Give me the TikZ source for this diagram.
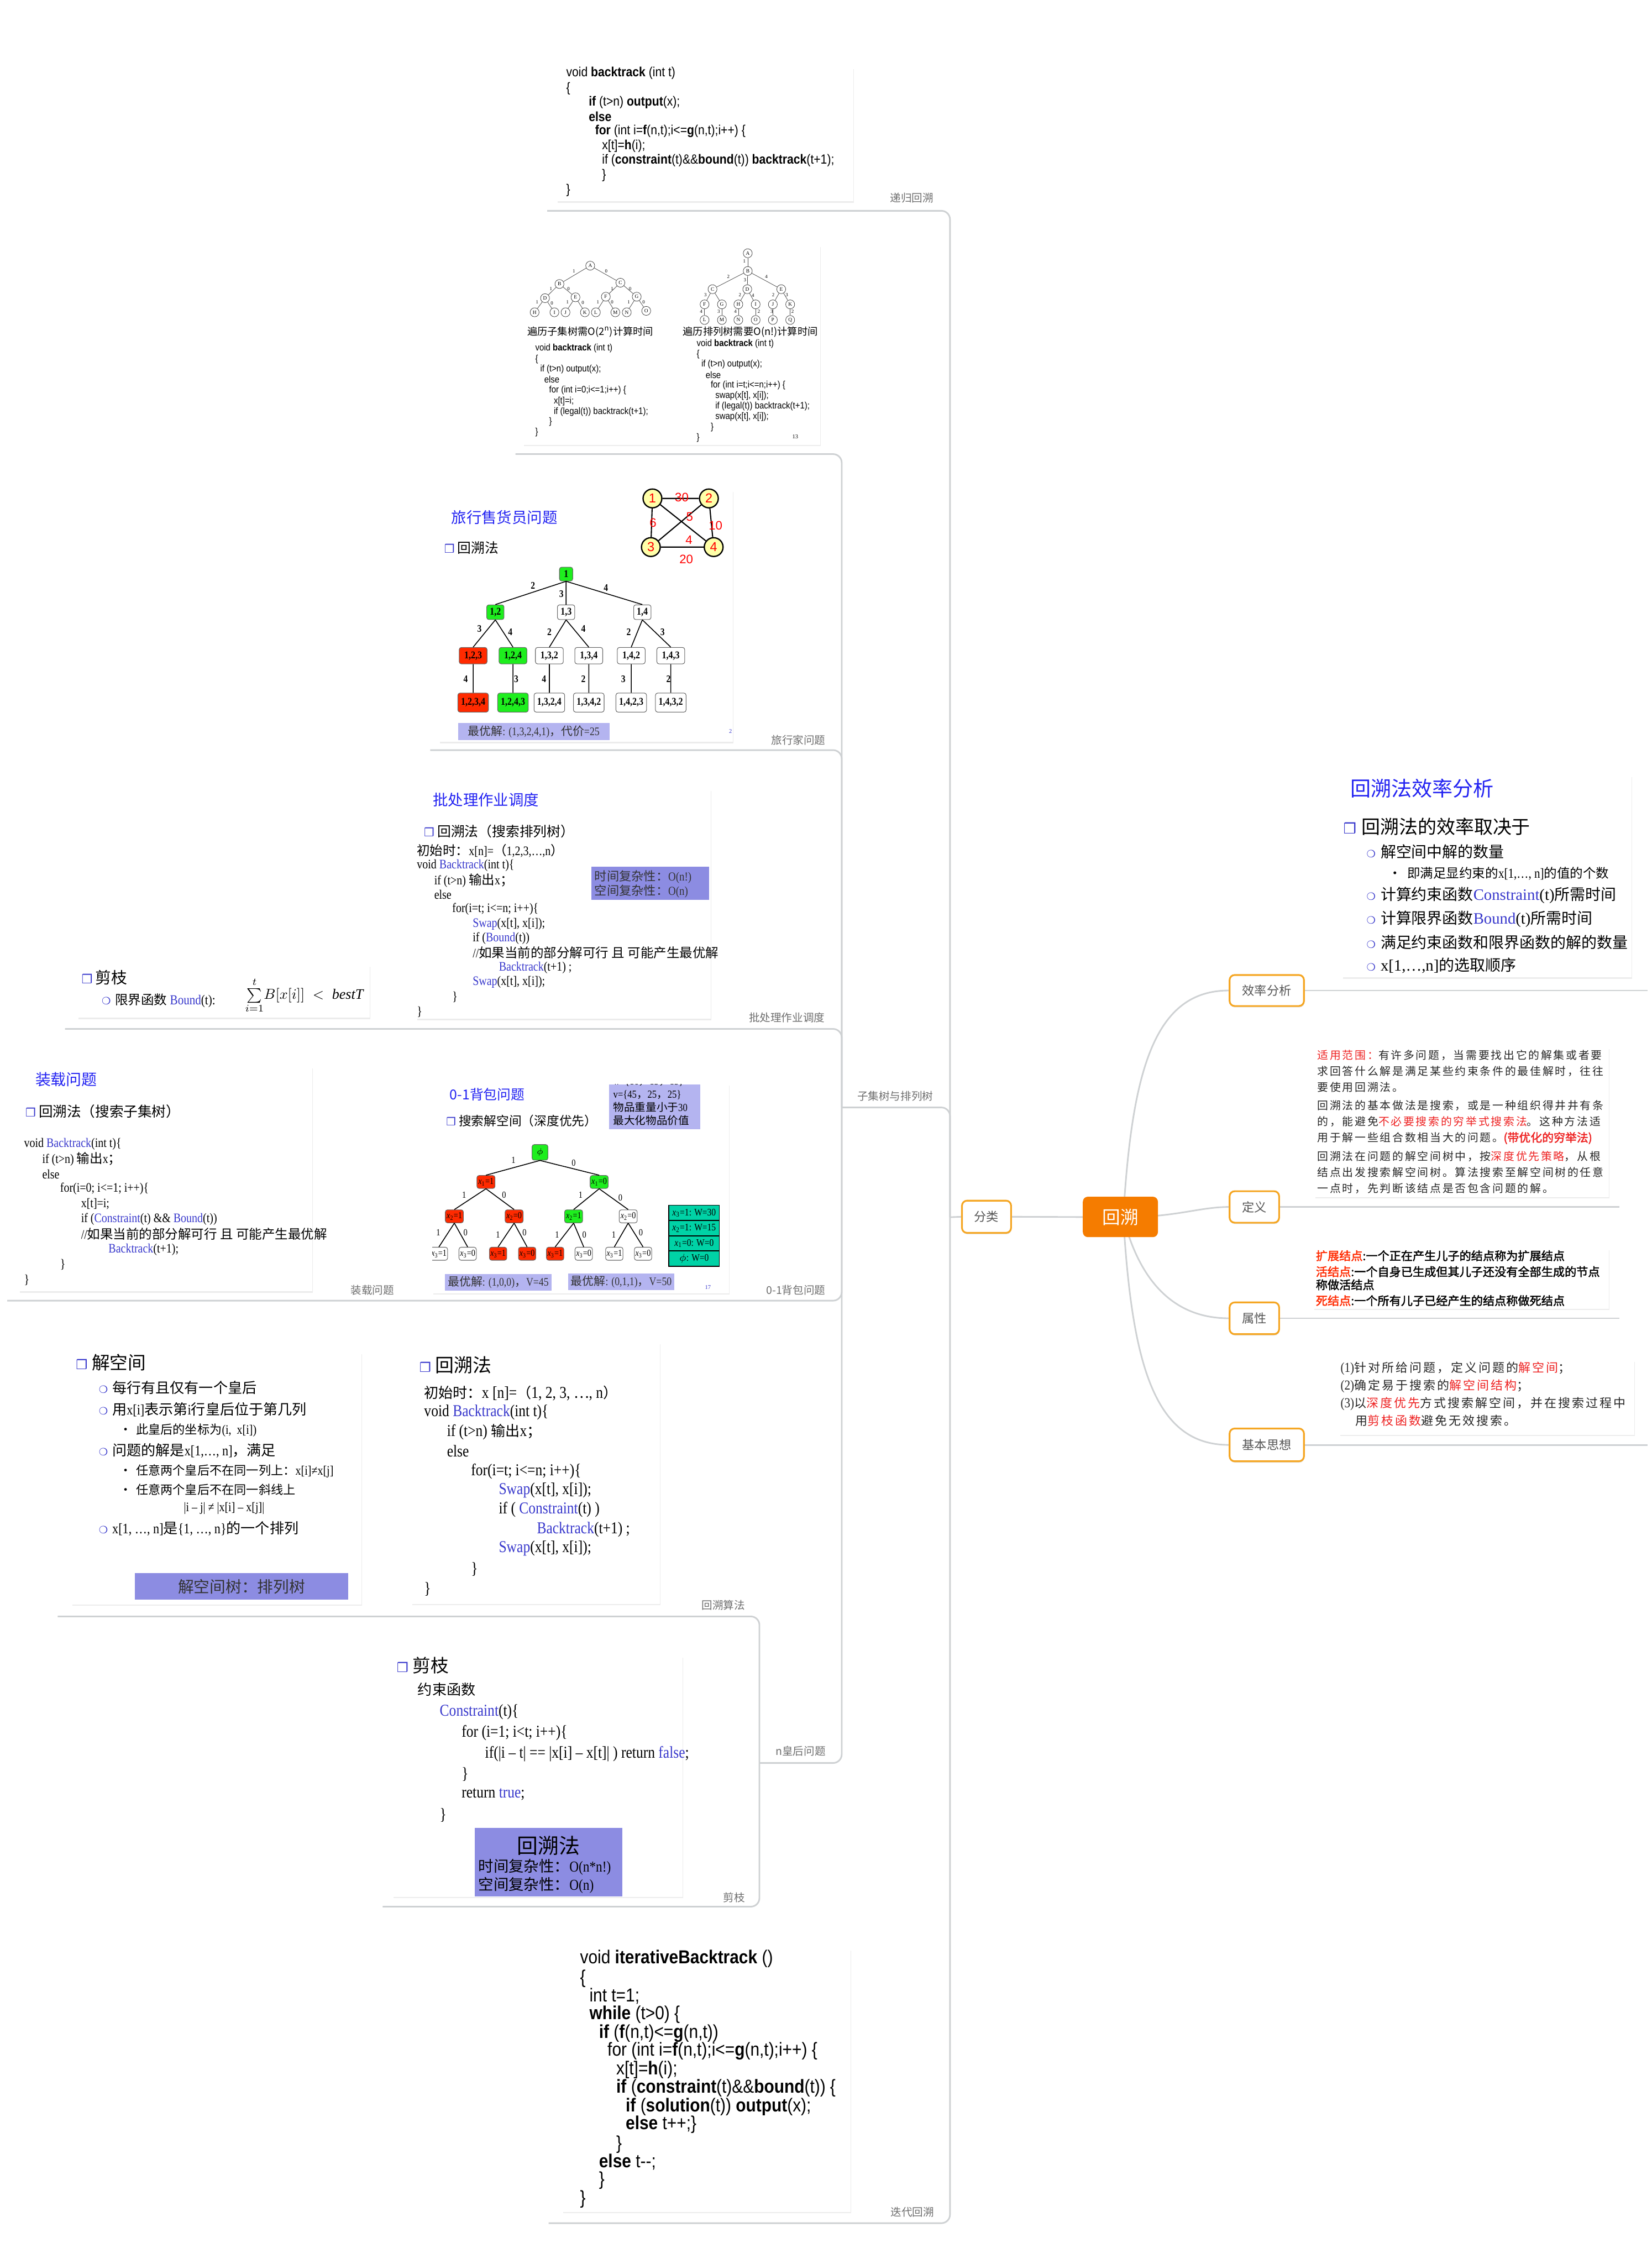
\documentclass[tikz,border=0pt]{standalone}
\usepackage{fontspec}
\usepackage{amsmath}
\usetikzlibrary{shadows}
\setmainfont{Liberation Serif}
\setsansfont{Liberation Sans}
\newfontfamily\cjk{Noto Sans CJK SC}
\newfontfamily\cjkbf[FakeBold=2]{Noto Sans CJK SC}
\newfontfamily\cjksp[LetterSpace=14]{Noto Sans CJK SC}
\newfontfamily\nserif[FakeStretch=0.85]{Liberation Serif}
\newfontfamily\nsans[FakeStretch=0.88]{Liberation Sans}
\newfontfamily\dingfont{DejaVu Sans}

\definecolor{linegray}{HTML}{CED1D3}
\definecolor{rootorange}{HTML}{F57C00}
\definecolor{edgeorange}{HTML}{F5A623}
\definecolor{taggray}{HTML}{6E6E6E}
\definecolor{topictext}{HTML}{555555}
\definecolor{titleblue}{HTML}{2323F2}
\definecolor{codeblue}{HTML}{3838CC}
\definecolor{lavbox}{HTML}{B4B4F0}
\definecolor{purpbox}{HTML}{8C8CE2}
\definecolor{ngreen}{HTML}{1EEE1E}
\definecolor{nred}{HTML}{FF2A00}
\definecolor{tabteal}{HTML}{00D2A6}
\definecolor{tspyel}{HTML}{FFFFA8}
\definecolor{notered}{HTML}{EE2222}

\newcommand\fsz[1]{\fontsize{#1}{#1}\selectfont}
\newcommand\lat[1]{{\nserif #1}}
\newcommand\zhtxt[1]{{\cjk #1}}
\newcommand\zhs[2]{{\cjk\fsz{#1}#2}}
\newcommand\blu[1]{\textcolor{codeblue}{#1}}
\newcommand\redt[1]{\textcolor{notered}{#1}}
\newcommand\sqbul[1]{{\dingfont\fsz{#1}\textcolor{codeblue}{❒}}}
\newcommand\ringbul{{\dingfont\fsz{7}\textcolor{codeblue}{❍}}}
\newcommand\xeq[2]{\textit{x}\textsubscript{#1}=#2}

\begin{document}
\begin{tikzpicture}[x=1pt,y=-1pt,
  slide/.style={anchor=north west, fill=white, inner sep=0pt,
    drop shadow={shadow xshift=0.4pt, shadow yshift=-0.9pt, opacity=0.15}},
  branch/.style={draw=linegray, line width=1.1pt, rounded corners=6pt},
  spoke/.style={draw=linegray, line width=1.1pt},
  tag/.style={text=taggray, font=\cjk\fsz{7.5}, inner sep=0pt},
  codeln/.style={anchor=west, inner sep=0pt},
  hilite/.style={anchor=north west, inner sep=0pt},
  topic/.style={draw=edgeorange, line width=1.2pt, fill=white, rounded corners=3.5pt,
    text=topictext, font=\cjk\fsz{8.5}, inner sep=0pt,
    drop shadow={shadow xshift=0.3pt, shadow yshift=-1pt, opacity=0.18}},
  cn/.style={circle, draw=black!75, line width=0.3pt, fill=white, inner sep=0pt,
    minimum size=6.2pt, font=\rmfamily\fsz{3.6}},
  elab/.style={inner sep=0pt, font=\rmfamily\fsz{3.4}},
  tn/.style={draw=black!60, line width=0.4pt, rounded corners=1.5pt, fill=white,
    inner sep=0pt, font=\nserif\bfseries\fsz{7.2}},
  tn2/.style={tn, minimum width=12pt, minimum height=10.2pt},
  tn3/.style={tn, minimum width=19.3pt, minimum height=11.4pt},
  tn4/.style={tn, minimum width=21.2pt, minimum height=13.2pt},
  tlab/.style={inner sep=0pt, font=\nserif\bfseries\fsz{7}},
  kn/.style={draw=black!60, line width=0.4pt, rounded corners=1.5pt, fill=white,
    inner sep=0pt, minimum width=12.5pt, minimum height=9pt, font=\nserif\fsz{6.4}},
  klab/.style={inner sep=0pt, font=\nserif\fsz{6.5}},
  gnode/.style={circle, draw=black, line width=0.9pt, fill=tspyel, inner sep=0pt,
    minimum size=13pt, text=red, font=\sffamily\fsz{9}},
  glab/.style={inner sep=0pt, text=red, font=\sffamily\fsz{8.5}},
]
\useasboundingbox (0,0) rectangle (1144,1568);

% mind map branches on the left
\coordinate (jA) at (658,843);
\coordinate (jB) at (583,767);
\coordinate (jC) at (526,1221);
\coordinate (ctr) at (778,843);
\coordinate (lRec) at (379,146);
\coordinate (lTree) at (357,314.5);
\coordinate (lTsp) at (298,519.5);
\coordinate (lJob) at (45,712.6);
\coordinate (lKnap) at (5,900.8);
\coordinate (lAlg) at (40,1119.5);
\coordinate (lCut) at (265,1320.5);
\coordinate (lIter) at (380,1539.7);
\draw[branch] (lRec) -| (jA);
\draw[branch] (lIter) -| (jA);
\draw[branch] (jB) -| (jA);
\draw[branch] (lTree) -| (jB);
\draw[branch] (lTsp) -| (jB);
\draw[branch] (lJob) -| (jB);
\draw[branch] (lKnap) -| (jB);
\draw[branch] (jC) -| (jB);
\draw[branch] (lAlg) -| (jC);
\draw[branch] (lCut) -| (jC);

% topics round the root
\node[topic, minimum width=34pt, minimum height=22.3pt] (fenlei) at (683.3,842.7) {分类};
\node[topic, minimum width=51.5pt, minimum height=21.5pt] (effnode) at (877.4,686) {效率分析};
\node[topic, minimum width=34.3pt, minimum height=21.8pt] (defnode) at (868.8,835.9) {定义};
\node[topic, minimum width=34.3pt, minimum height=22pt] (attrnode) at (868.8,913) {属性};
\node[topic, minimum width=51.5pt, minimum height=22.7pt] (ideanode) at (877.4,1000.7) {基本思想};
\coordinate (effend) at (1141,686);
\coordinate (defend) at (1121.8,835.9);
\coordinate (attrend) at (1121.8,913);
\coordinate (ideaend) at (1141,1000.7);
\draw[spoke] (jA) -- (fenlei.west);
\draw[spoke] (fenlei.east) -- (ctr);
\draw[spoke] (ctr) .. controls (784,740) and (800,686) .. (effnode.west);
\draw[spoke] (ctr) .. controls (815,843) and (830,836) .. (defnode.west);
\draw[spoke] (ctr) .. controls (790,890) and (815,913) .. (attrnode.west);
\draw[spoke] (ctr) .. controls (784,946) and (800,1000.7) .. (ideanode.west);
\draw[spoke] (effnode.east) -- (effend);
\draw[spoke] (defnode.east) -- (defend);
\draw[spoke] (attrnode.east) -- (attrend);
\draw[spoke] (ideanode.east) -- (ideaend);
\node[fill=rootorange, rounded corners=3.5pt, minimum width=52pt, minimum height=28pt,
  text=white, font=\cjk\fsz{12.5}, inner sep=0pt] (root) at (776,842.8) {回溯};

% branch tags
\node[tag] (tagrec) at (631.5,137) {递归回溯};
\node[tag] (tagtree) at (620,759) {子集树与排列树};
\node[tag] (tagtsp) at (553,512.4) {旅行家问题};
\node[tag] (tagjob) at (545,704.9) {批处理作业调度};
\node[tag] (tagload) at (258,893.4) {装载问题};
\node[tag] (tagknap) at (551.2,893.5) {0-1背包问题};
\node[tag] (tagalg) at (501,1111.6) {回溯算法};
\node[tag] (tagcut) at (508.4,1314.2) {剪枝};
\node[tag] (tagqueen) at (554.5,1212.6) {n皇后问题};
\node[tag] (tagiter) at (632,1532) {迭代回溯};

% (a) recursive backtracking
\node[slide, minimum width=205.3pt, minimum height=92.4pt] (recbox) at (385.5,46.9) {};
\begin{scope}[every node/.style={codeln, font=\nsans\fsz{9.2}}]
\node (rec1) at (392,50.5) {void \textbf{backtrack} (int t)};
\node (rec2) at (392,61.3) {\{};
\node (rec3) at (407.6,71) {\textbf{if} (t>n) \textbf{output}(x);};
\node (rec4) at (407.6,80.6) {\textbf{else}};
\node (rec5) at (412,90.8) {\textbf{for} (int i=\textbf{f}(n,t);i<=\textbf{g}(n,t);i++) \{};
\node (rec6) at (416.8,101) {x[t]=\textbf{h}(i);};
\node (rec7) at (416.8,111.3) {if (\textbf{constraint}(t)\&\&\textbf{bound}(t)) \textbf{backtrack}(t+1);};
\node (rec8) at (416.8,121.5) {\}};
\node (rec9) at (392,131.7) {\}};
\end{scope}

% (b) subset tree and permutation tree
\node[slide, minimum width=205.6pt, minimum height=137.6pt] (treebox) at (362.4,170.2) {};
\node[cn] (sA) at (408.8,184) {A};
\node[cn] (sB) at (387.5,196.7) {B};
\node[cn] (sC) at (429.7,195.8) {C};
\node[cn] (sD) at (377.5,206.5) {D};
\node[cn] (sE) at (398.6,205.9) {E};
\node[cn] (sF) at (419.6,205.5) {F};
\node[cn] (sG) at (441,205.5) {G};
\node[cn] (sH) at (370.3,216.3) {H};
\node[cn] (sI) at (384,216.3) {I};
\node[cn] (sJ) at (391.7,216.3) {J};
\node[cn] (sK) at (405.1,216.3) {K};
\node[cn] (sL) at (412.7,216.3) {L};
\node[cn] (sM) at (426.2,216.3) {M};
\node[cn] (sN) at (434.1,216.3) {N};
\node[cn] (sO) at (447.6,215.3) {O};
\foreach \a/\b in {sA/sB,sA/sC,sB/sD,sB/sE,sC/sF,sC/sG,sD/sH,sD/sI,sE/sJ,sE/sK,sF/sL,sF/sM,sG/sN,sG/sO}
  \draw[line width=0.3pt, black!70] (\a) -- (\b);
\foreach \x/\y/\t [count=\i] in {397.5/187.7/1,419.9/187.7/0,381.6/199.9/1,393.8/199.9/0,424/199.9/1,436.4/199.9/0,
  372/209.1/1,382.3/209.9/0,393.1/209.3/1,403.7/209.5/0,414.1/209.1/1,424/209.1/0,435.5/209.1/1,445.8/209.1/0}
  \node[elab] (sl\i) at (\x,\y) {\t};
\node[cn] (pA) at (517.9,175.4) {A};
\node[cn] (pB) at (517.9,187.7) {B};
\node[cn] (pC) at (493.5,200.3) {C};
\node[cn] (pD) at (517.6,200.3) {D};
\node[cn] (pE) at (541.1,200.3) {E};
\node[cn] (pF) at (488,210.8) {F};
\node[cn] (pG) at (500,210.8) {G};
\node[cn] (pH) at (511.4,210.8) {H};
\node[cn] (pI) at (523.4,210.8) {I};
\node[cn] (pJ) at (535.3,210.8) {J};
\node[cn] (pK) at (547.3,210.8) {K};
\node[cn] (pL) at (488,221.6) {L};
\node[cn] (pM) at (500,221.6) {M};
\node[cn] (pN) at (511.4,221.6) {N};
\node[cn] (pO) at (523.4,221.6) {O};
\node[cn] (pP) at (535.3,221.6) {P};
\node[cn] (pQ) at (547.3,221.6) {Q};
\foreach \a/\b in {pA/pB,pB/pC,pB/pD,pB/pE,pC/pF,pC/pG,pD/pH,pD/pI,pE/pJ,pE/pK,pF/pL,pG/pM,pH/pN,pI/pO,pJ/pP,pK/pQ}
  \draw[line width=0.3pt, black!70] (\a) -- (\b);
\foreach \x/\y/\t [count=\i] in {515.6/181/1,504.5/191.5/2,516/193.9/3,530.8/191.5/4,488.6/204.3/3,512.5/204.3/2,
  521.5/204.7/4,535.6/204.3/2,545/204.3/3,485.6/215.6/4,497.8/215.6/3,509.4/215.6/4,525.6/215.6/2,534.5/215.6/3,549/215.6/2}
  \node[elab] (pl\i) at (\x,\y) {\t};
\node[font=\cjk\fsz{7}, inner sep=0pt] (subcap) at (408.9,229.8) {遍历子集树需O(2\textsuperscript{n})计算时间};
\node[font=\cjk\fsz{7}, inner sep=0pt] (permcap) at (519.7,229.8) {遍历排列树需要O(n!)计算时间};
\begin{scope}[every node/.style={codeln, font=\nsans\fsz{6.5}}]
\node (sc1) at (370.6,241.2) {void \textbf{backtrack} (int t)};
\node (sc2) at (370.6,249) {\{};
\node (sc3) at (374,255.6) {if (t>n) output(x);};
\node (sc4) at (376.8,262.8) {else};
\node (sc5) at (380.2,270.4) {for (int i=0;i<=1;i++) \{};
\node (sc6) at (383.4,277.9) {x[t]=i;};
\node (sc7) at (383.4,285.1) {if (legal(t)) backtrack(t+1);};
\node (sc8) at (380.2,292.3) {\}};
\node (sc9) at (370.6,299.5) {\}};
\node (pc1) at (482.4,238) {void \textbf{backtrack} (int t)};
\node (pc2) at (482.4,245.4) {\{};
\node (pc3) at (485.6,252.4) {if (t>n) output(x);};
\node (pc4) at (488.6,259.6) {else};
\node (pc5) at (492.1,267) {for (int i=t;i<=n;i++) \{};
\node (pc6) at (495.3,274.3) {swap(x[t], x[i]);};
\node (pc7) at (495.3,281.5) {if (legal(t)) backtrack(t+1);};
\node (pc8) at (495.3,288.7) {swap(x[t], x[i]);};
\node (pc9) at (492.1,296) {\}};
\node (pc10) at (482.4,303.2) {\}};
\end{scope}
\node[font=\rmfamily\fsz{4}, inner sep=0pt] (treepg) at (550.8,302.5) {13};

% (c) travelling salesman
\node[slide, minimum width=203.4pt, minimum height=174.2pt] (tspbox) at (304.1,339.5) {};
\node[codeln, text=titleblue, font=\cjk\fsz{10.5}] (tsptitle) at (312.4,358.5) {旅行售货员问题};
\node[codeln, font=\cjk\fsz{9.5}] (tsphead) at (307.5,379.5) {\sqbul{8}\hspace{2pt}回溯法};
\node[gnode] (g1) at (451.9,345.2) {1};
\node[gnode] (g2) at (491,345.2) {2};
\node[gnode] (g3) at (450.8,378.9) {3};
\node[gnode] (g4) at (494.3,378.9) {4};
\draw[line width=0.8pt] (g1) -- (g2) (g1) -- (g3) (g2) -- (g4) (g3) -- (g4) (g1) -- (g4) (g2) -- (g3);
\node[glab] (gw1) at (472.2,344.6) {30};
\node[glab] (gw2) at (452.3,362.1) {6};
\node[glab] (gw3) at (477.7,357.9) {5};
\node[glab] (gw4) at (495.6,363.9) {10};
\node[glab] (gw5) at (477.2,374.1) {4};
\node[glab] (gw6) at (475.3,387.3) {20};
\node[tn, fill=ngreen, minimum width=9.2pt, minimum height=9.6pt] (t1) at (392.1,397.6) {1};
\node[tn2, fill=ngreen] (t12) at (343.1,424) {1,2};
\node[tn2] (t13) at (392.1,424) {1,3};
\node[tn2] (t14) at (444.9,424) {1,4};
\node[tn3, fill=nred] (t123) at (327.7,454.1) {1,2,3};
\node[tn3, fill=ngreen] (t124) at (355.3,454.1) {1,2,4};
\node[tn3] (t132) at (380.5,454.1) {1,3,2};
\node[tn3] (t134) at (407.8,454.1) {1,3,4};
\node[tn3] (t142) at (437.2,454.1) {1,4,2};
\node[tn3] (t143) at (464.6,454.1) {1,4,3};
\node[tn4, fill=nred] (t1234) at (327.7,486.6) {1,2,3,4};
\node[tn4, fill=ngreen] (t1243) at (355.3,486.6) {1,2,4,3};
\node[tn4] (t1324) at (380.5,486.6) {1,3,2,4};
\node[tn4] (t1342) at (407.8,486.6) {1,3,4,2};
\node[tn4] (t1423) at (437.2,486.6) {1,4,2,3};
\node[tn4] (t1432) at (464.6,486.6) {1,4,3,2};
\draw[line width=0.6pt] (t1.south) -- (t12.north) (t1.south) -- (t13.north) (t1.south) -- (t14.north)
  (t12.south) -- (t123.north) (t12.south) -- (t124.north) (t13.south) -- (t132.north)
  (t13.south) -- (t134.north) (t14.south) -- (t142.north) (t14.south) -- (t143.north)
  (t123) -- (t1234) (t124) -- (t1243) (t132) -- (t1324) (t134) -- (t1342) (t142) -- (t1423) (t143) -- (t1432);
\foreach \x/\y/\t [count=\i] in {369.1/405.4/2,388.8/411.4/3,419.7/407.2/4,332.1/435.5/3,353.4/437.6/4,
  380.5/437.6/2,404.1/435.5/4,435.4/437.6/2,458.9/437.6/3,322.5/470.3/4,357.5/470.3/3,
  376.8/470.3/4,404.1/470.3/2,431.7/470.3/3,463/470.3/2}
  \node[tlab] (tw\i) at (\x,\y) {\t};
\node[hilite, fill=lavbox, minimum width=105pt, minimum height=12.1pt, font=\nserif\fsz{8}, text=black!80]
  (tspbest) at (317,500.4) {\zhtxt{最优解}: (1,3,2,4,1)\zhtxt{，代价}=25};
\node[font=\rmfamily\fsz{4}, text=codeblue, inner sep=0pt] (tsppg) at (506,506.5) {2};

% (d) batch job scheduling
\node[slide, minimum width=203.3pt, minimum height=158.8pt] (jobbox) at (288.6,546.7) {};
\node[codeln, text=titleblue, font=\cjk\fsz{10.5}] (jobtitle) at (299.6,553.9) {批处理作业调度};
\node[codeln, font=\cjk\fsz{9.5}] (jobhead) at (293.5,575.6) {\sqbul{8}\hspace{2pt}回溯法（搜索排列树）};
\node[hilite, fill=purpbox, minimum width=81.6pt, minimum height=22.9pt] (jobcx) at (409.4,600.2) {};
\begin{scope}[every node/.style={codeln, font=\nserif\fsz{9}}]
\node (job1) at (288.6,589.4) {\zhtxt{初始时：}x[n]=\zhtxt{（}1,2,3,…,n\zhtxt{）}};
\node (job2) at (288.6,599.6) {void \blu{Backtrack}(int t)\{};
\node (job3) at (300.6,609.9) {if (t>n) \zhtxt{输出}x\zhtxt{；}};
\node (job4) at (300.6,619.7) {else};
\node (job5) at (313.1,629.7) {for(i=t; i<=n; i++)\{};
\node (job6) at (327.2,640) {\blu{Swap}(x[t], x[i]);};
\node (job7) at (327.2,650) {if (\blu{Bound}(t))};
\node (job8) at (327.2,659.8) {//\zhtxt{如果当前的部分解可行 且 可能产生最优解}};
\node (job9) at (345.4,670.3) {\blu{Backtrack}(t+1) ;};
\node (job10) at (327.2,680.2) {\blu{Swap}(x[t], x[i]);};
\node (job11) at (313.1,690.5) {\}};
\node (job12) at (288.6,700.7) {\}};
\node[text=black!80, font=\nserif\fsz{8.5}] (jobcx1) at (411.7,607.5) {\zhtxt{时间复杂性：}O(n!)};
\node[text=black!80, font=\nserif\fsz{8.5}] (jobcx2) at (411.7,617.3) {\zhtxt{空间复杂性：}O(n)};
\end{scope}

% (e) pruning by bound
\node[slide, minimum width=201.9pt, minimum height=36.1pt] (cutbox) at (53.9,668.6) {};
\node[codeln, font=\cjk\fsz{11}] (cuthead) at (56.3,676.9) {\sqbul{8.5}\hspace{2pt}剪枝};
\node[codeln, font=\cjk\fsz{9}] (cutbound) at (70.3,692.9) {\ringbul\hspace{3pt}限界函数 \lat{\fsz{9.5}\blu{Bound}(t):}};
\node[codeln, font=\fsz{10}] (cutform) at (169.6,689.5) {$\sum\limits_{i=1}^{t}\! B[x[i]] \;<\; \mathit{bestT}$};

% (f) loading problem
\node[slide, minimum width=203pt, minimum height=155.2pt] (loadbox) at (13,738.9) {};
\node[codeln, text=titleblue, font=\cjk\fsz{10.7}] (loadtitle) at (24.3,747.5) {装载问题};
\node[codeln, font=\cjk\fsz{9.8}] (loadhead) at (17.5,769.6) {\sqbul{8}\hspace{2pt}回溯法（搜索子集树）};
\begin{scope}[every node/.style={codeln, font=\nserif\fsz{9}}]
\node (load1) at (16.5,792.4) {void \blu{Backtrack}(int t)\{};
\node (load2) at (29.1,802.7) {if (t>n) \zhtxt{输出}x\zhtxt{；}};
\node (load3) at (29.1,813.2) {else};
\node (load4) at (41.5,823.5) {for(i=0; i<=1; i++)\{};
\node (load5) at (56,833.8) {x[t]=i;};
\node (load6) at (56,844.5) {if (\blu{Constraint}(t) \&\& \blu{Bound}(t))};
\node (load7) at (56,854.6) {//\zhtxt{如果当前的部分解可行 且 可能产生最优解}};
\node (load8) at (75,865.3) {\blu{Backtrack}(t+1);};
\node (load9) at (41.5,875.9) {\}};
\node (load10) at (16.5,886.5) {\}};
\end{scope}

% (g) 0-1 knapsack
\node[slide, minimum width=205.3pt, minimum height=144.7pt] (knapbox) at (299.4,750.9) {};
\node[codeln, text=titleblue, font=\cjk\fsz{9.5}] (knaptitle) at (311.4,757.8) {0-1背包问题};
\node[codeln, font=\cjk\fsz{8.7}] (knaphead) at (308.9,776.1) {\sqbul{7.5}\hspace{2pt}搜索解空间（深度优先）};
\node[hilite, fill=lavbox, minimum width=63pt, minimum height=30.8pt] (knapinfo) at (421.8,750.9) {};
\begin{scope}
\clip (421.8,750.9) rectangle (484.8,781.7);
\node[codeln, font=\nserif\fsz{7.5}] (knapw) at (424.6,749.3) {w=\{16\zhtxt{，}15\zhtxt{，}15\}};
\end{scope}
\begin{scope}[every node/.style={codeln, font=\nserif\fsz{7.5}}]
\node (knapv) at (424.6,758.4) {v=\{45\zhtxt{，}25\zhtxt{，}25\}};
\node (knapc) at (424.6,766.9) {\zhtxt{物品重量小于}30};
\node (knapm) at (424.6,775.9) {\zhtxt{最大化物品价值}};
\end{scope}
\begin{scope}
\clip (299.4,750.9) rectangle (504.7,895.6);
\node[kn, fill=ngreen, minimum width=11pt, minimum height=10.8pt] (k0) at (374,798.1) {$\phi$};
\node[kn, fill=nred] (k1) at (336.6,818.6) {\xeq{1}{1}};
\node[kn, fill=ngreen] (k2) at (415,818.6) {\xeq{1}{0}};
\node[kn, fill=nred] (k11) at (314.7,842.4) {\xeq{2}{1}};
\node[kn, fill=nred] (k10) at (356.1,842.4) {\xeq{2}{0}};
\node[kn, fill=ngreen] (k21) at (397.3,842.4) {\xeq{2}{1}};
\node[kn] (k20) at (435.1,842.4) {\xeq{2}{0}};
\node[kn, minimum width=12pt] (k111) at (304,868.3) {\xeq{3}{1}};
\node[kn, minimum width=12pt] (k110) at (323.9,868.3) {\xeq{3}{0}};
\node[kn, minimum width=12pt, fill=nred] (k101) at (345,868.3) {\xeq{3}{1}};
\node[kn, minimum width=12pt, fill=nred] (k100) at (365.1,868.3) {\xeq{3}{0}};
\node[kn, minimum width=12pt, fill=nred] (k211) at (384.5,868.3) {\xeq{3}{1}};
\node[kn, minimum width=12pt] (k210) at (404.3,868.3) {\xeq{3}{0}};
\node[kn, minimum width=12pt] (k201) at (425.5,868.3) {\xeq{3}{1}};
\node[kn, minimum width=12pt] (k200) at (445.4,868.3) {\xeq{3}{0}};
\draw[line width=0.6pt] (k0.south) -- (k1.north) (k0.south) -- (k2.north)
  (k1.south) -- (k11.north) (k1.south) -- (k10.north) (k2.south) -- (k21.north) (k2.south) -- (k20.north)
  (k11.south) -- (k111.north) (k11.south) -- (k110.north) (k10.south) -- (k101.north) (k10.south) -- (k100.north)
  (k21.south) -- (k211.north) (k21.south) -- (k210.north) (k20.south) -- (k201.north) (k20.south) -- (k200.north);
\end{scope}
\foreach \x/\y/\t [count=\i] in {355.6/803.6/1,397.3/805.4/0,321.5/827.6/1,349.1/827.6/0,402.1/827.6/1,429.7/829.4/0,
  303.6/853.5/1,322.4/853.5/0,344.9/855.3/1,363.3/853.5/0,385.9/855.3/1,404.7/855.3/0,425.1/855.3/1,443.9/853.5/0}
  \node[klab] (kw\i) at (\x,\y) {\t};
\begin{scope}[every node/.style={draw=black, line width=0.6pt, fill=tabteal, minimum width=34.9pt,
    minimum height=10.53pt, inner sep=0pt, font=\nserif\fsz{7}}]
\node (kr1) at (480.75,840.06) {\xeq{3}{1}: W=30};
\node (kr2) at (480.75,850.59) {\xeq{2}{1}: W=15};
\node (kr3) at (480.75,861.12) {\xeq{1}{0}: W=0};
\node (kr4) at (480.75,871.65) {$\phi$: W=0};
\end{scope}
\node[hilite, fill=lavbox, minimum width=73.6pt, minimum height=11.5pt, font=\nserif\fsz{8}, text=black!80]
  (knapbest1) at (308.1,882.3) {\zhtxt{最优解}: (1,0,0)\zhtxt{，}V=45};
\node[hilite, fill=lavbox, minimum width=73.6pt, minimum height=11.5pt, font=\nserif\fsz{8}, text=black!80]
  (knapbest2) at (393.3,881.7) {\zhtxt{最优解}: (0,1,1)\zhtxt{，}V=50};
\node[font=\rmfamily\fsz{4}, text=codeblue, inner sep=0pt] (knappg) at (490.3,891.6) {17};

% (h) n queens: solution space
\node[slide, minimum width=200.5pt, minimum height=174.1pt] (qsbox) at (49.7,936.9) {};
\node[codeln, font=\cjk\fsz{12.5}] (qshead) at (52.4,943.7) {\sqbul{9}\hspace{3pt}解空间};
\begin{scope}[every node/.style={codeln, font=\cjk\fsz{10}}]
\node (qs1) at (68.3,961.2) {\ringbul\hspace{3pt}每行有且仅有一个皇后};
\node (qs2) at (68.3,976.2) {\ringbul\hspace{3pt}用\lat{x[i]}表示第\lat{i}行皇后位于第几列};
\node[font=\cjk\fsz{8.5}] (qs3) at (82.5,990.7) {•\hspace{3pt}此皇后的坐标为\lat{\fsz{9}(i,\ \ x[i])}};
\node (qs4) at (68.3,1004.5) {\ringbul\hspace{3pt}问题的解是\lat{x[1,…, n]}，满足};
\node[font=\cjk\fsz{8.5}] (qs5) at (82.5,1018.9) {•\hspace{3pt}任意两个皇后不在同一列上：\lat{\fsz{9}x[i]≠x[j]}};
\node[font=\cjk\fsz{8.5}] (qs6) at (82.5,1031.6) {•\hspace{3pt}任意两个皇后不在同一斜线上};
\node[font=\nserif\fsz{9}] (qs7) at (127.1,1044.8) {|i – j| ≠ |x[i] – x[j]|};
\node (qs8) at (68.3,1058.6) {\ringbul\hspace{3pt}\lat{x[1, …, n]}是\lat{\{1, …, n\}}的一个排列};
\end{scope}
\node[hilite, fill=purpbox, minimum width=148pt, minimum height=18.4pt, font=\cjk\fsz{11}, text=black!80]
  (qstree) at (93.1,1089.3) {解空间树：排列树};

% (i) n queens: backtracking
\node[slide, minimum width=171.6pt, minimum height=180.9pt] (qbbox) at (285.1,929.7) {};
\node[codeln, font=\cjk\fsz{13}] (qbhead) at (290.3,945.5) {\sqbul{9}\hspace{3pt}回溯法};
\begin{scope}[every node/.style={codeln, font=\nserif\fsz{11.5}}]
\node (qb1) at (293.6,964.8) {\zhs{10}{初始时：}x [n]=\zhs{10}{（}1, 2, 3, \zhs{10}{⋯}, n\zhs{10}{）}};
\node (qb2) at (293.6,978) {void \blu{Backtrack}(int t)\{};
\node (qb3) at (309.4,991.9) {if (t>n) \zhs{10}{输出}x\zhs{10}{；}};
\node (qb4) at (309.4,1005.1) {else};
\node (qb5) at (326.1,1018.9) {for(i=t; i<=n; i++)\{};
\node (qb6) at (345.3,1032.2) {\blu{Swap}(x[t], x[i]);};
\node (qb7) at (345.3,1045.4) {if ( \blu{Constraint}(t) )};
\node (qb8) at (371.7,1059.2) {\blu{Backtrack}(t+1) ;};
\node (qb9) at (345.3,1072.5) {\blu{Swap}(x[t], x[i]);};
\node (qb10) at (326.1,1086.9) {\}};
\node (qb11) at (293.6,1100.7) {\}};
\end{scope}

% (j) n queens: pruning
\node[slide, minimum width=200.5pt, minimum height=166.6pt] (qcbox) at (272,1147) {};
\node[codeln, font=\cjk\fsz{12.5}] (qchead) at (274.6,1153.6) {\sqbul{9}\hspace{3pt}剪枝};
\node[codeln, font=\cjk\fsz{10}] (qcsub) at (289.2,1169.9) {约束函数};
\begin{scope}[every node/.style={codeln, font=\nserif\fsz{11.5}}]
\node (qc1) at (304.4,1185.5) {\blu{Constraint}(t)\{};
\node (qc2) at (319.6,1200) {for (i=1; i<t; i++)\{};
\node (qc3) at (335.8,1214.8) {if(|i – t| == |x[i] – x[t]| ) return \blu{false};};
\node (qc4) at (319.6,1228.8) {\}};
\node (qc5) at (319.6,1242.7) {return \blu{true};};
\node (qc6) at (304.4,1257.1) {\}};
\end{scope}
\node[hilite, fill=purpbox, minimum width=102.3pt, minimum height=47.6pt] (qccx) at (328.7,1265.8) {};
\node[font=\cjk\fsz{14.5}, inner sep=0pt] (qccx0) at (379.8,1278.2) {回溯法};
\node[codeln, font=\nserif\fsz{10.5}] (qccx1) at (331.2,1293.2) {\zhtxt{时间复杂性：}O(n*n!)};
\node[codeln, font=\nserif\fsz{10.5}] (qccx2) at (331.2,1305.8) {\zhtxt{空间复杂性：}O(n)};

% (k) iterative backtracking
\node[slide, minimum width=199.2pt, minimum height=181.7pt] (itbox) at (389.6,1350) {};
\begin{scope}[every node/.style={codeln, font=\nsans\fsz{13}}]
\node (it1) at (401.6,1356.7) {void \textbf{iterativeBacktrack} ()};
\node (it2) at (401.6,1370.2) {\{};
\node (it3) at (408.1,1382.5) {int t=1;};
\node (it4) at (408.1,1395.3) {\textbf{while} (t>0) \{};
\node (it5) at (414.7,1408.2) {\textbf{if} (\textbf{f}(n,t)<=\textbf{g}(n,t))};
\node (it6) at (420.6,1420.5) {for (int i=\textbf{f}(n,t);i<=\textbf{g}(n,t);i++) \{};
\node (it7) at (426.7,1433.4) {x[t]=\textbf{h}(i);};
\node (it8) at (426.7,1446.3) {\textbf{if} (\textbf{constraint}(t)\&\&\textbf{bound}(t)) \{};
\node (it9) at (433.2,1459.2) {\textbf{if} (\textbf{solution}(t)) \textbf{output}(x);};
\node (it10) at (433.2,1471.4) {\textbf{else} t++;\}};
\node (it11) at (426.7,1485) {\}};
\node (it12) at (414.7,1497.2) {\textbf{else} t-{}-;};
\node (it13) at (414.7,1510.1) {\}};
\node (it14) at (401.6,1523) {\}};
\end{scope}

% (l) efficiency analysis
\node[slide, minimum width=200.3pt, minimum height=139.6pt] (effbox) at (929.7,537.1) {};
\node[codeln, text=titleblue, font=\cjk\fsz{14.2}] (efftitle) at (935.1,546.1) {回溯法效率分析};
\node[codeln, font=\cjk\fsz{13}] (effhead) at (930.3,572.6) {\sqbul{10}\hspace{3.5pt}回溯法的效率取决于};
\begin{scope}[every node/.style={codeln, font=\cjk\fsz{10.7}}]
\node (eff1) at (946.3,590) {\ringbul\hspace{3.5pt}解空间中解的数量};
\node[font=\cjk\fsz{9}] (eff2) at (961.6,605) {•\hspace{4pt}即满足显约束的\lat{\fsz{9.5}x[1,…, n]}的值的个数};
\node (eff3) at (946.3,620.1) {\ringbul\hspace{3.5pt}计算约束函数{\rmfamily\fsz{11}\blu{Constraint}(t)}所需时间};
\node (eff4) at (946.3,636.4) {\ringbul\hspace{3.5pt}计算限界函数{\rmfamily\fsz{11}\blu{Bound}(t)}所需时间};
\node (eff5) at (946.3,652.6) {\ringbul\hspace{3.5pt}满足约束函数和限界函数的解的数量};
\node (eff6) at (946.3,668.9) {\ringbul\hspace{3.5pt}{\rmfamily\fsz{11}x[1,…,n]}的选取顺序};
\end{scope}

% (m) definition
\node[slide, minimum width=203.8pt, minimum height=103.3pt] (defbox) at (910.4,725.5) {};
\begin{scope}[every node/.style={codeln, font=\cjksp\fsz{7.6}, text=black!85}]
\node (def1) at (912.3,731) {\redt{适用范围：}有许多问题，当需要找出它的解集或者要};
\node (def2) at (912.3,742) {求回答什么解是满足某些约束条件的最佳解时，往往};
\node (def3) at (912.3,753) {要使用回溯法。};
\node (def4) at (912.3,765.7) {回溯法的基本做法是搜索，或是一种组织得井井有条};
\node (def5) at (912.3,776.9) {的，能避免\redt{不必要搜索的穷举式搜索法}。这种方法适};
\node (def6) at (912.3,788.2) {用于解一些组合数相当大的问题。{\cjkbf\fsz{8}\redt{(带优化的穷举法)}}};
\node (def7) at (912.3,800.9) {回溯法在问题的解空间树中，按\redt{深度优先策略}，从根};
\node (def8) at (912.3,811.9) {结点出发搜索解空间树。算法搜索至解空间树的任意};
\node (def9) at (912.3,823.1) {一点时，先判断该结点是否包含问题的解。};
\end{scope}

% (n) attributes
\node[slide, minimum width=204.4pt, minimum height=41.3pt] (attrbox) at (909.8,864.8) {};
\begin{scope}[every node/.style={codeln, font=\cjkbf\fsz{8.1}}]
\node (attr1) at (911.2,869.7) {\textcolor{nred}{扩展结点}:一个正在产生儿子的结点称为扩展结点};
\node (attr2) at (911.2,880.7) {\textcolor{nred}{活结点}:一个自身已生成但其儿子还没有全部生成的节点};
\node (attr3) at (911.2,889.8) {称做活结点};
\node (attr4) at (911.2,900.8) {\textcolor{nred}{死结点}:一个所有儿子已经产生的结点称做死结点};
\end{scope}

% (o) basic idea
\node[slide, minimum width=204.3pt, minimum height=51.5pt] (ideabox) at (927.6,942) {};
\begin{scope}[every node/.style={codeln, font=\cjksp\fsz{8.4}, text=black!85}]
\node (idea1) at (928.3,947.8) {\lat{\fsz{9.5}(1)}针对所给问题，定义问题的\redt{解空间}；};
\node (idea2) at (928.3,960.1) {\lat{\fsz{9.5}(2)}确定易于搜索的\redt{解空间结构}；};
\node (idea3) at (928.3,972.1) {\lat{\fsz{9.5}(3)}以\redt{深度优先}方式搜索解空间，并在搜索过程中};
\node (idea4) at (938.5,984) {用\redt{剪枝函数}避免无效搜索。};
\end{scope}
\end{tikzpicture}
\end{document}
